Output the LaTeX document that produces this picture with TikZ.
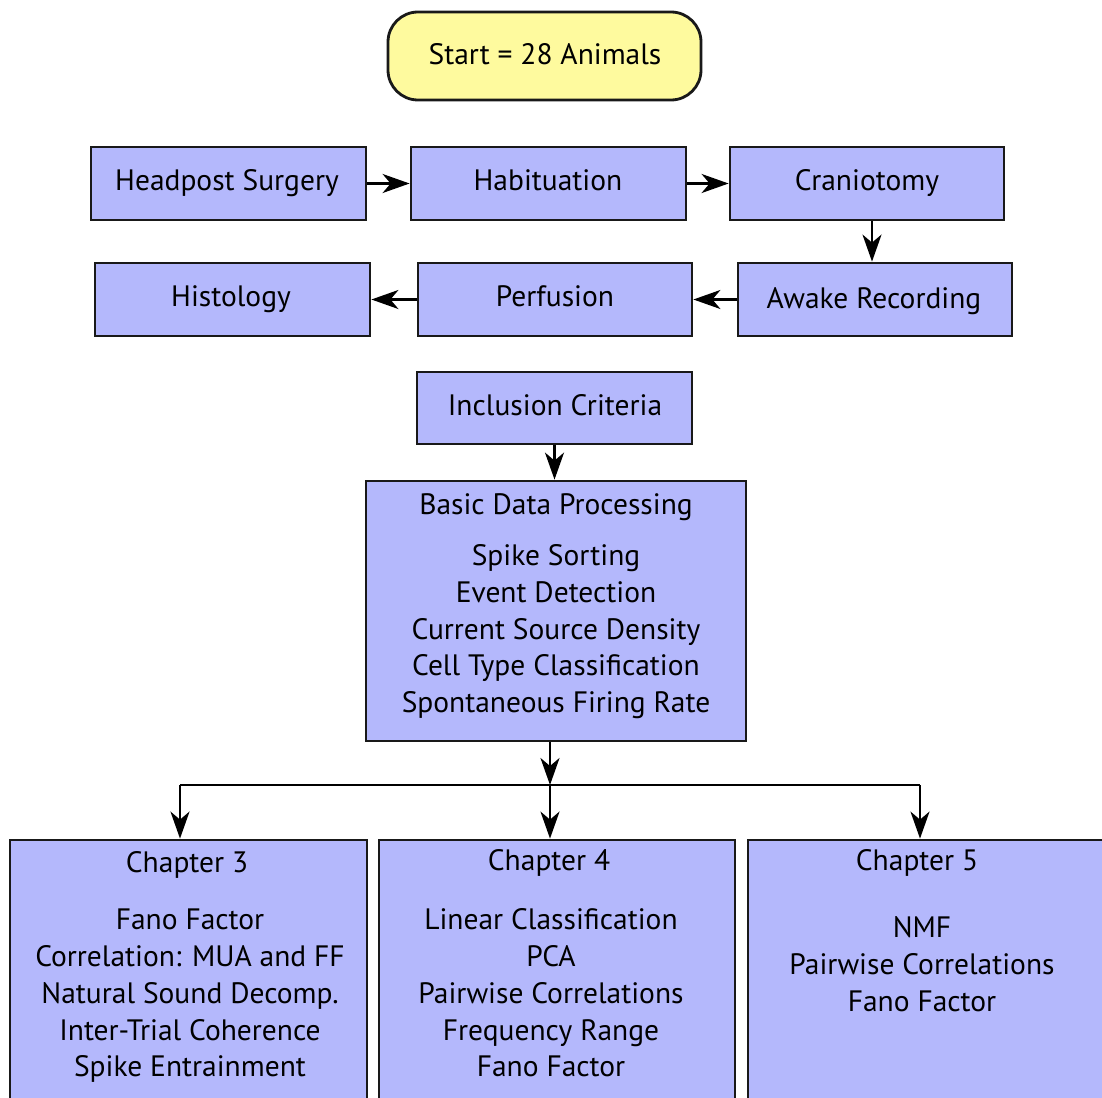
\documentclass[tikz,border=0pt]{standalone}
\usepackage{fontspec}
\setmainfont{PT Sans}
\usetikzlibrary{arrows.meta}
\definecolor{boxfill}{HTML}{B4B8FC}
\definecolor{startfill}{HTML}{FEFA9E}
\begin{document}
\begin{tikzpicture}[x=1pt,y=-1pt,
  box/.style={draw=black!90,line width=2.8pt,fill=boxfill,rectangle,inner sep=0pt},
  txt/.style={font=\fontsize{29.5}{33}\selectfont,inner sep=0pt,anchor=base},
  arr/.style={line width=2.4pt,-{Stealth[length=27pt,width=19pt,inset=8pt]}},
  ln/.style={line width=2.4pt}]
\useasboundingbox (0,0) rectangle (1102,1097);
\clip (0,0) rectangle (1102,1097);
% start
\node[draw=black!90,line width=2.8pt,fill=startfill,rounded corners=30pt,minimum width=313pt,minimum height=88pt,inner sep=0pt] (start) at (544.5,56) {};
\node[txt] (startt) at (545,65) {Start = 28 Animals};
% row 1
\node[box,minimum width=275pt,minimum height=73pt] (head) at (228.5,183.5) {};
\node[box,minimum width=275pt,minimum height=73pt] (hab) at (548.5,183.5) {};
\node[box,minimum width=274pt,minimum height=73pt] (cran) at (867,183.5) {};
\node[txt] at (227,190) {Headpost Surgery};
\node[txt] at (548,190) {Habituation};
\node[txt] at (867,190) {Craniotomy};
% row 2
\node[box,minimum width=275pt,minimum height=73pt] (hist) at (232.5,299.5) {};
\node[box,minimum width=274pt,minimum height=73pt] (perf) at (555,299.5) {};
\node[box,minimum width=274pt,minimum height=73pt] (awake) at (875,299.5) {};
\node[txt] at (231,306) {Histology};
\node[txt] at (555,306) {Perfusion};
\node[txt] at (874,308) {Awake Recording};
% inclusion
\node[box,minimum width=275pt,minimum height=72pt] (incl) at (554.5,408) {};
\node[txt] at (555,415) {Inclusion Criteria};
% basic
\node[box,minimum width=380pt,minimum height=260pt] (basic) at (556,611) {};
\node[txt] at (556,514) {Basic Data Processing};
\node[txt] at (556,565) {Spike Sorting};
\node[txt] at (556,602) {Event Detection};
\node[txt] at (556,639) {Current Source Density};
\node[txt] at (556,675) {Cell Type Classification};
\node[txt] at (556,712) {Spontaneous Firing Rate};
% chapters
\node[box,minimum width=357pt,minimum height=300pt] (ch3) at (188.5,990) {};
\node[box,minimum width=356pt,minimum height=300pt] (ch4) at (557,990) {};
\node[box,minimum width=362pt,minimum height=300pt] (ch5) at (929,990) {};
\node[txt] at (187,872) {Chapter 3};
\node[txt] at (190,929) {Fano Factor};
\node[txt] at (190,966) {Correlation: MUA and FF};
\node[txt] at (190,1003) {Natural Sound Decomp.};
\node[txt] at (190,1040) {Inter-Trial Coherence};
\node[txt] at (190,1076) {Spike Entrainment};
\node[txt] at (549,870) {Chapter 4};
\node[txt] at (551,929) {Linear Classification};
\node[txt] at (551,966) {PCA};
\node[txt] at (551,1003) {Pairwise Correlations};
\node[txt] at (551,1040) {Frequency Range};
\node[txt] at (551,1076) {Fano Factor};
\node[txt] at (917,870) {Chapter 5};
\node[txt] at (922,937) {NMF};
\node[txt] at (922,974) {Pairwise Correlations};
\node[txt] at (922,1011) {Fano Factor};
% arrows
\draw[arr] (head.east) -- (hab.west);
\draw[arr] (hab.east) -- (cran.west);
\draw[arr] (cran.south -| 872,0) -- (awake.north -| 872,0);
\draw[arr] (awake.west) -- (perf.east);
\draw[arr] (perf.west) -- (hist.east);
\draw[arr] (incl.south) -- (basic.north -| incl.south);
\coordinate (jn) at (550,785);
\draw[arr] (basic.south -| jn) -- (jn);
\draw[ln] (180,785) -- (920,785);
\draw[arr] (jn) -- (ch4.north -| jn);
\draw[arr] (180,785) -- (ch3.north -| 180,0);
\draw[arr] (920,785) -- (ch5.north -| 920,0);
\end{tikzpicture}
\end{document}
